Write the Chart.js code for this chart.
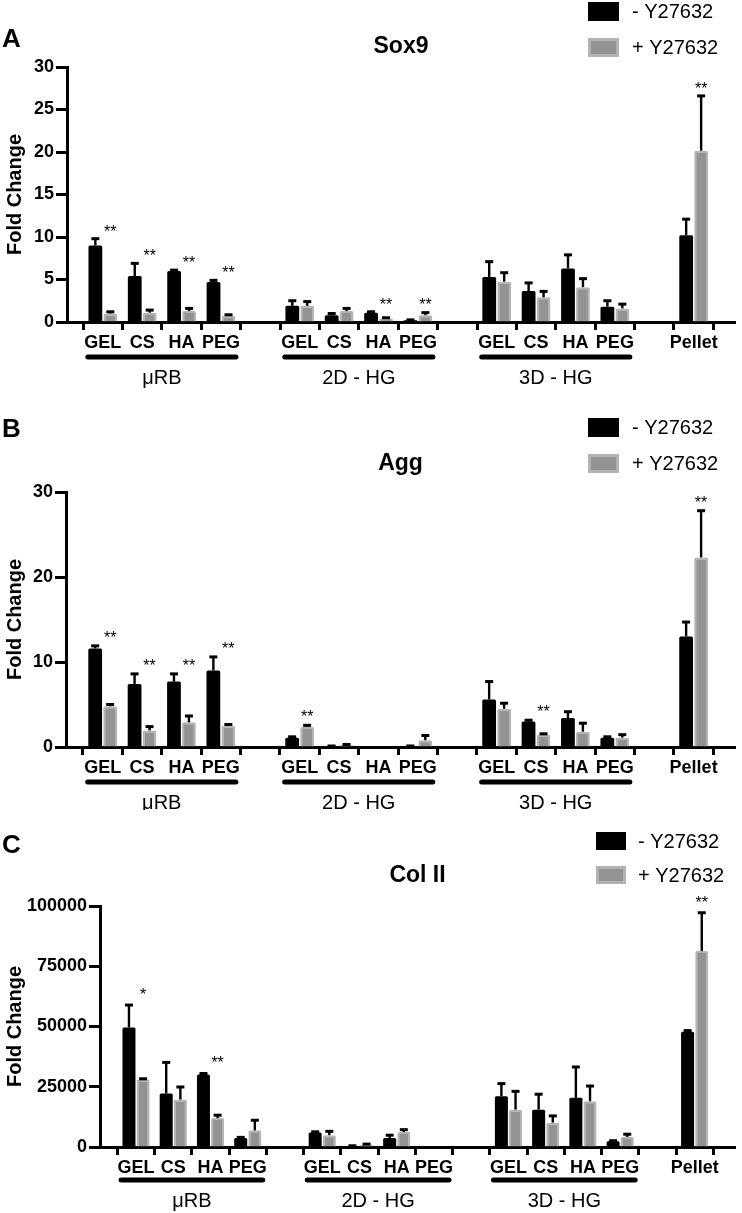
<!DOCTYPE html>
<html>
<head>
<meta charset="utf-8">
<script src="https://cdn.jsdelivr.net/npm/chart.js@4.4.1/dist/chart.umd.min.js"></script>
<style>
  html, body { margin: 0; padding: 0; background: #fff; }
  #wrap { position: relative; width: 742px; height: 1213px; background: #fff; }
  canvas { position: absolute; left: 0; }
</style>
</head>
<body>
<div id="wrap">
  <canvas id="cA" width="742" height="392" style="top:0px"></canvas>
  <canvas id="cB" width="742" height="418" style="top:392px"></canvas>
  <canvas id="cC" width="742" height="403" style="top:810px"></canvas>
</div>
<script>
// ---------- DATA ----------
const categories = ['GEL','CS','HA','PEG','','GEL','CS','HA','PEG','','GEL','CS','HA','PEG','','Pellet'];
const groupNames = ['\u03bcRB','2D - HG','3D - HG'];
const groupStart = [0, 5, 10];
const groupEnd = [3, 8, 13];
const seriesNames = ['- Y27632', '+ Y27632'];

// Panel A: Sox9
const sox9Minus    = [9.0, 5.4, 6.0, 4.7, null, 1.9, 0.8, 1.1, 0.2, null, 5.3, 3.65, 6.3, 1.8, null, 10.2];
const sox9MinusErr = [0.8, 1.5, 0.1, 0.2, null, 0.6, 0.2, 0.1, 0.05, null, 1.8, 0.95, 1.6, 0.7, null, 1.9];
const sox9Plus     = [1.0, 1.1, 1.3, 0.75, null, 1.9, 1.3, 0.4, 0.8, null, 4.75, 2.9, 4.1, 1.6, null, 20.15];
const sox9PlusErr  = [0.2, 0.3, 0.3, 0.1, null, 0.5, 0.3, 0.1, 0.3, null, 1.05, 0.7, 1.0, 0.5, null, 6.45];
const sox9Sig      = ['**','**','**','**','','','','**','**','','','','','','','**'];
const sox9Ticks    = [0, 5, 10, 15, 20, 25, 30];

// Panel B: Agg
const aggMinus    = [11.6, 7.4, 7.7, 9.0, null, 1.1, 0.1, 0.03, 0.1, null, 5.6, 3.0, 3.4, 1.1, null, 13.0];
const aggMinusErr = [0.3, 1.2, 0.9, 1.6, null, 0.1, 0.02, 0, 0.02, null, 2.1, 0.15, 0.75, 0.1, null, 1.7];
const aggPlus     = [4.8, 1.95, 2.9, 2.5, null, 2.35, 0.25, 0.05, 0.8, null, 4.5, 1.45, 1.8, 1.1, null, 22.3];
const aggPlusErr  = [0.2, 0.45, 0.75, 0.15, null, 0.2, 0.05, 0, 0.55, null, 0.65, 0.1, 1.0, 0.35, null, 5.5];
const aggSig      = ['**','**','**','**','','**','','','','','','**','','','','**'];
const aggTicks    = [0, 10, 20, 30];

// Panel C: Col II
const col2Minus    = [49600, 22200, 30100, 3700, null, 6000, 400, 3700, 100, null, 21100, 15500, 20400, 2400, null, 47800];
const col2MinusErr = [9300, 12900, 400, 300, null, 300, 100, 1200, 0, null, 5200, 6400, 12800, 200, null, 500];
const col2Plus     = [28000, 19700, 12000, 6900, null, 4900, 900, 6200, 200, null, 15500, 10100, 19000, 4200, null, 81300];
const col2PlusErr  = [300, 5200, 1200, 4200, null, 1600, 300, 1000, 0, null, 7600, 2800, 6300, 1100, null, 15900];
const col2Sig      = ['*','','**','','','','','','','','','','','','','**'];
const col2Ticks    = [0, 25000, 50000, 75000, 100000];

// ---------- STYLE ----------
const FONT = "'Liberation Sans', Arial, Helvetica, sans-serif";
const BLACK = '#000000';
const GRAY_FILL = '#939393';
const GRAY_EDGE = '#b3b3b3';

const decorPlugin = {
  id: 'decor',
  afterDatasetsDraw(chart, args, opts) {
    const ctx = chart.ctx, ys = chart.scales.y;
    ctx.save();
    // error bars
    chart.data.datasets.forEach((ds, di) => {
      const meta = chart.getDatasetMeta(di);
      meta.data.forEach((el, j) => {
        const v = ds.data[j].y, e = ds.errors[j];
        if (v == null || e == null || e <= 0) return;
        const yTop = ys.getPixelForValue(v + e);
        ctx.strokeStyle = '#000';
        ctx.lineWidth = 2.4;
        ctx.beginPath(); ctx.moveTo(el.x, el.y); ctx.lineTo(el.x, yTop); ctx.stroke();
        ctx.lineWidth = 3;
        ctx.beginPath(); ctx.moveTo(el.x - 4, yTop); ctx.lineTo(el.x + 4, yTop); ctx.stroke();
      });
    });
    // significance stars
    const sig = opts.sig || [];
    const metaPlus = chart.getDatasetMeta(1);
    sig.forEach((s, j) => {
      if (!s) return;
      let top = Infinity;
      chart.data.datasets.forEach(ds => {
        const v = ds.data[j].y; if (v == null) return;
        top = Math.min(top, ys.getPixelForValue(v + (ds.errors[j] || 0)));
      });
      const x = metaPlus.data[j].x;
      ctx.fillStyle = '#000';
      ctx.font = '16px ' + FONT;
      ctx.textAlign = 'center';
      ctx.textBaseline = 'alphabetic';
      ctx.fillText(s, x, top - opts.starGap + 16 * 0.55);
    });
    ctx.restore();
  },
  afterDraw(chart, args, opts) {
    const ctx = chart.ctx, xs = chart.scales.x, area = chart.chartArea;
    ctx.save();
    // group underline + names
    const uy = xs.top + opts.underline;
    groupNames.forEach((g, k) => {
      const x1 = xs.getPixelForValue(groupStart[k]) - 15;
      const x2 = xs.getPixelForValue(groupEnd[k]) + 15;
      ctx.strokeStyle = '#000'; ctx.lineWidth = 5; ctx.lineCap = 'round';
      ctx.beginPath(); ctx.moveTo(x1, uy); ctx.lineTo(x2, uy); ctx.stroke();
      ctx.fillStyle = '#000'; ctx.font = '20px ' + FONT;
      ctx.textAlign = 'center'; ctx.textBaseline = 'middle';
      ctx.fillText(g, (x1 + x2) / 2, uy + 21);
    });
    // panel letter
    ctx.fillStyle = '#000'; ctx.textAlign = 'left'; ctx.textBaseline = 'alphabetic';
    ctx.font = 'bold 26px ' + FONT;
    ctx.fillText(opts.letter, 2, opts.letterY);
    // title
    ctx.textAlign = 'center';
    ctx.font = 'bold 23px ' + FONT;
    ctx.fillText(opts.title, (area.left + area.right) / 2, opts.titleY);
    // legend
    const lg = opts.legend;
    chart.data.datasets.forEach((ds, i) => {
      const by = lg.y[i];
      ctx.fillStyle = ds.borderWidth ? ds.borderColor : ds.backgroundColor;
      ctx.fillRect(lg.x, by, lg.w, lg.h);
      if (ds.borderWidth) {
        ctx.fillStyle = ds.backgroundColor;
        ctx.fillRect(lg.x + 3, by + 3, lg.w - 6, lg.h - 6);
      }
      ctx.fillStyle = '#000';
      ctx.font = '20px ' + FONT;
      ctx.textAlign = 'left'; ctx.textBaseline = 'middle';
      ctx.fillText(ds.label, lg.tx, by + lg.h / 2 + 1);
    });
    ctx.restore();
  }
};

function makeChart(id, cfg) {
  const toPts = arr => arr.map((v, i) => ({ x: i, y: v }));
  return new Chart(document.getElementById(id), {
    type: 'bar',
    data: {
      datasets: [
        { label: seriesNames[0], data: toPts(cfg.minus), errors: cfg.minusErr,
          backgroundColor: BLACK, borderWidth: 0, borderRadius: 1.5,
          categoryPercentage: 0.76, barPercentage: 0.92 },
        { label: seriesNames[1], data: toPts(cfg.plus), errors: cfg.plusErr,
          backgroundColor: GRAY_FILL, borderColor: GRAY_EDGE, borderWidth: 2, borderRadius: 1.5,
          borderSkipped: 'bottom',
          categoryPercentage: 0.76, barPercentage: 0.92 }
      ]
    },
    options: {
      responsive: false,
      animation: false,
      devicePixelRatio: 1,
      layout: { padding: { top: cfg.padTop, right: 7, left: 0, bottom: 0 } },
      plugins: {
        legend: { display: false },
        tooltip: { enabled: false },
        decor: {
          sig: cfg.sig, starGap: cfg.starGap, letter: cfg.letter, letterY: cfg.letterY,
          title: cfg.title, titleY: cfg.titleY, legend: cfg.legend, underline: cfg.underline
        }
      },
      scales: {
        x: {
          type: 'linear',
          min: cfg.xMin, max: cfg.xMax,
          afterBuildTicks: s => { s.ticks = categories.map((c, i) => ({ value: i })); },
          afterFit: s => { s.height = cfg.xHeight; },
          border: { display: true, color: '#000', width: 3 },
          grid: { display: true, drawOnChartArea: false, drawTicks: true, tickLength: 8, tickWidth: 3, color: '#000', tickColor: '#000' },
          ticks: {
            autoSkip: false, maxRotation: 0, minRotation: 0, padding: 2,
            color: '#000', font: { family: FONT, size: 18, weight: 'bold' },
            callback: v => categories[v] || ''
          }
        },
        y: {
          min: cfg.yTicks[0], max: cfg.yTicks[cfg.yTicks.length - 1],
          afterBuildTicks: s => { s.ticks = cfg.yTicks.map(v => ({ value: v })); },
          afterFit: s => { s.width = cfg.yWidth; },
          border: { display: true, color: '#000', width: 3 },
          grid: { display: true, drawOnChartArea: false, drawTicks: true, tickLength: 11, tickWidth: 3, color: '#000', tickColor: '#000' },
          ticks: { padding: 2, color: '#000', font: { family: FONT, size: 18, weight: 'bold' }, callback: v => String(v) },
          title: { display: true, text: 'Fold Change', color: '#000', padding: { top: 3, bottom: 0 },
                   font: { family: FONT, size: 20, weight: 'bold' } }
        }
      }
    },
    plugins: [decorPlugin]
  });
}

makeChart('cA', {
  minus: sox9Minus, minusErr: sox9MinusErr, plus: sox9Plus, plusErr: sox9PlusErr,
  sig: sox9Sig, yTicks: sox9Ticks, title: 'Sox9', letter: 'A',
  padTop: 67, xHeight: 70, yWidth: 67, xMin: -0.38, xMax: 15.52,
  letterY: 47, titleY: 53, starGap: 11, underline: 35,
  legend: { x: 588, y: [2, 38], w: 31, h: 19, tx: 632 }
});
makeChart('cB', {
  minus: aggMinus, minusErr: aggMinusErr, plus: aggPlus, plusErr: aggPlusErr,
  sig: aggSig, yTicks: aggTicks, title: 'Agg', letter: 'B',
  padTop: 100, xHeight: 63, yWidth: 66, xMin: -0.4, xMax: 15.52,
  letterY: 45, titleY: 78, starGap: 12, underline: 35,
  legend: { x: 588, y: [26, 62], w: 31, h: 19, tx: 632 }
});
makeChart('cC', {
  minus: col2Minus, minusErr: col2MinusErr, plus: col2Plus, plusErr: col2PlusErr,
  sig: col2Sig, yTicks: col2Ticks, title: 'Col II', letter: 'C',
  padTop: 96, xHeight: 66, yWidth: 100, xMin: -0.435, xMax: 15.55,
  letterY: 43, titleY: 72, starGap: 14, underline: 33,
  legend: { x: 596, y: [22, 56], w: 30, h: 18, tx: 638 }
});
</script>
</body>
</html>
